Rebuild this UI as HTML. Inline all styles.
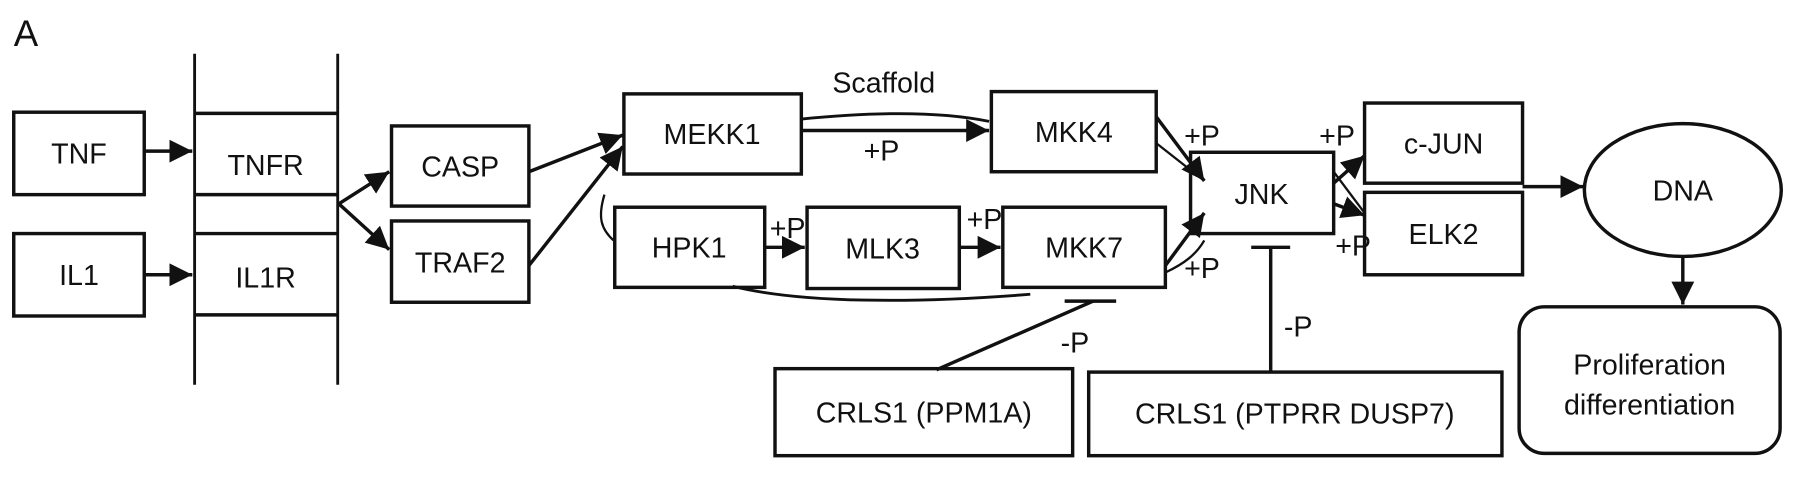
<!DOCTYPE html>
<html><head><meta charset="utf-8"><style>
html,body{margin:0;padding:0;background:#fff;}
svg{display:block;}
text{font-family:"Liberation Sans",Arial,sans-serif;fill:#111;}
</style></head><body>
<svg width="1795" height="478" viewBox="0 0 1568 417.5" preserveAspectRatio="none" xmlns="http://www.w3.org/2000/svg">
<defs>
<marker id="a" viewBox="0 0 10 10" refX="10" refY="5" markerWidth="20" markerHeight="20" orient="auto" markerUnits="userSpaceOnUse"><path d="M0,0 L10,5 L0,10 z" fill="#111"/></marker>
</defs>
<g fill="none" stroke="#111" stroke-width="3">
<text x="12" y="40" font-size="32" stroke="none">A</text>
<line x1="170" y1="47" x2="170" y2="336" stroke-width="2.5"/>
<line x1="295" y1="47" x2="295" y2="336" stroke-width="2.5"/>
<line x1="170" y1="99" x2="295" y2="99"/>
<line x1="170" y1="170" x2="295" y2="170"/>
<line x1="170" y1="204" x2="295" y2="204"/>
<line x1="170" y1="275" x2="295" y2="275"/>
<rect x="12" y="98" width="114" height="72"/>
<rect x="12" y="204" width="114" height="72"/>
<rect x="342" y="110" width="120" height="70"/>
<rect x="342" y="193" width="120" height="71"/>
<rect x="545" y="82" width="155" height="70"/>
<rect x="537" y="181" width="131" height="70"/>
<rect x="705" y="181" width="133" height="71"/>
<rect x="866" y="80" width="144" height="70"/>
<rect x="876" y="181" width="142" height="70"/>
<rect x="1040" y="133" width="125" height="71"/>
<rect x="1192" y="90" width="138" height="70"/>
<rect x="1192" y="168" width="138" height="72"/>
<ellipse cx="1470" cy="166" rx="86" ry="58"/>
<rect x="1327" y="268" width="228" height="128" rx="22"/>
<rect x="677" y="322" width="260" height="76"/>
<rect x="951" y="325" width="361" height="73"/>
<line x1="126" y1="132" x2="168" y2="132" marker-end="url(#a)"/>
<line x1="126" y1="240" x2="168" y2="240" marker-end="url(#a)"/>
<line x1="296" y1="178" x2="340" y2="150" marker-end="url(#a)"/>
<line x1="296" y1="178" x2="340" y2="218" marker-end="url(#a)"/>
<line x1="462" y1="150" x2="544" y2="118" marker-end="url(#a)"/>
<line x1="462" y1="232" x2="544" y2="128" marker-end="url(#a)"/>
<path d="M536,210 C525,200 522,190 528,170" stroke-width="2"/>
<path d="M700,104 C760,98 820,97 864,106" stroke-width="2.5"/>
<line x1="700" y1="114" x2="864" y2="114" marker-end="url(#a)"/>
<line x1="668" y1="216" x2="703" y2="216" marker-end="url(#a)"/>
<line x1="838" y1="216" x2="874" y2="216" marker-end="url(#a)"/>
<path d="M640,250 C700,265 800,265 900,257" stroke-width="2.5"/>
<line x1="1010" y1="102" x2="1052" y2="158" marker-end="url(#a)"/>
<line x1="1010" y1="125" x2="1052" y2="158" stroke-width="2"/>
<line x1="1018" y1="232" x2="1052" y2="186" marker-end="url(#a)"/>
<path d="M1018,238 C1035,230 1045,222 1052,210" stroke-width="2"/>
<line x1="1165" y1="160" x2="1192" y2="136" marker-end="url(#a)"/>
<line x1="1165" y1="178" x2="1192" y2="188" marker-end="url(#a)"/>
<line x1="1165" y1="150" x2="1192" y2="186" stroke-width="2"/>
<line x1="1330" y1="163" x2="1383" y2="163" marker-end="url(#a)"/>
<line x1="1470" y1="224" x2="1470" y2="266" marker-end="url(#a)"/>
<line x1="818" y1="323" x2="955" y2="263"/>
<line x1="930" y1="263" x2="975" y2="263"/>
<line x1="1110" y1="325" x2="1110" y2="216"/>
<line x1="1093" y1="216" x2="1127" y2="216"/>
</g>
<g font-size="25" text-anchor="middle">
<text x="69" y="143">TNF</text>
<text x="69" y="249">IL1</text>
<text x="232" y="153">TNFR</text>
<text x="232" y="251">IL1R</text>
<text x="402" y="154">CASP</text>
<text x="402" y="238">TRAF2</text>
<text x="622" y="126">MEKK1</text>
<text x="602" y="225">HPK1</text>
<text x="771" y="226">MLK3</text>
<text x="938" y="124">MKK4</text>
<text x="947" y="225">MKK7</text>
<text x="1102" y="178">JNK</text>
<text x="1261" y="134">c-JUN</text>
<text x="1261" y="213">ELK2</text>
<text x="1470" y="175">DNA</text>
<text x="1441" y="327">Proliferation</text>
<text x="1441" y="362">differentiation</text>
<text x="807" y="369">CRLS1 (PPM1A)</text>
<text x="1131" y="370">CRLS1 (PTPRR DUSP7)</text>
<text x="772" y="81">Scaffold</text>
<text x="770" y="140">+P</text>
<text x="688" y="208">+P</text>
<text x="860" y="200">+P</text>
<text x="1050" y="127">+P</text>
<text x="1050" y="243">+P</text>
<text x="1168" y="127">+P</text>
<text x="1182" y="223">+P</text>
<text x="939" y="308">-P</text>
<text x="1134" y="294">-P</text>
</g>
</svg>
</body></html>
